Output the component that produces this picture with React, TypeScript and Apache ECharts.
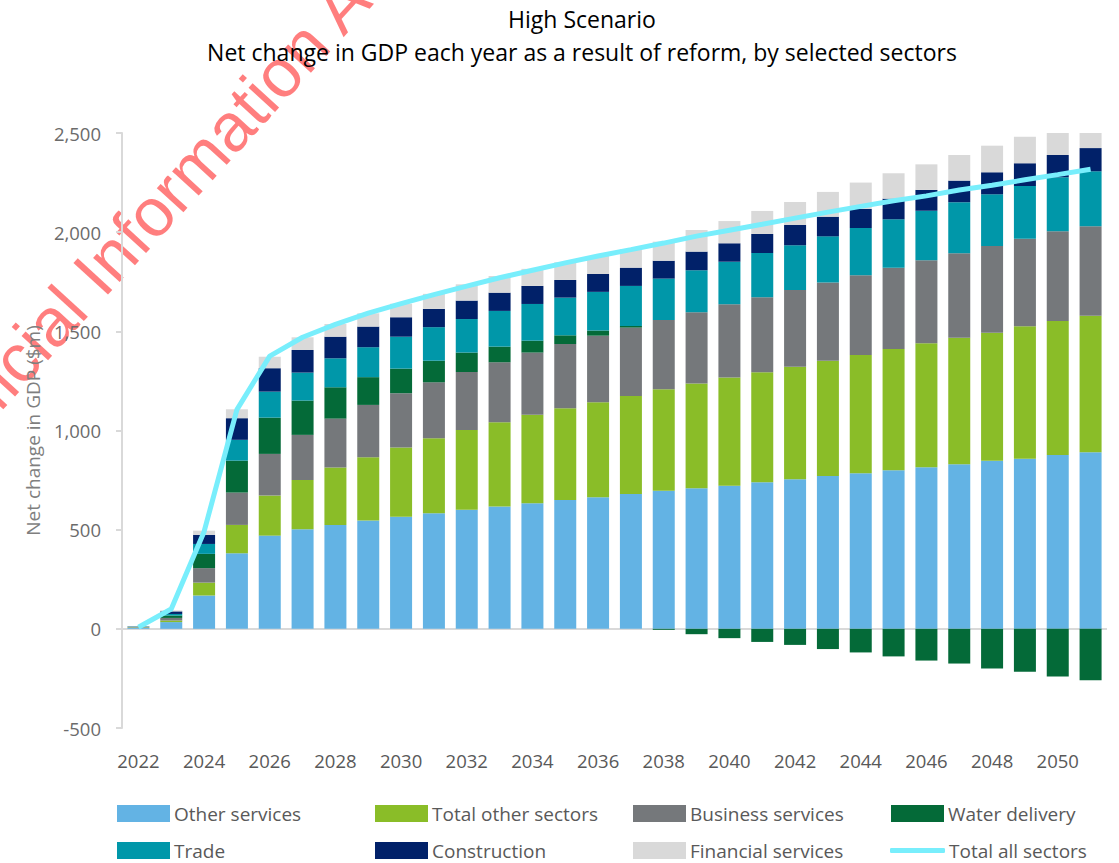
import React, { useEffect, useRef } from "react";
import * as echarts from "echarts";

const years = ["2022","2023","2024","2025","2026","2027","2028","2029","2030","2031","2032","2033","2034","2035","2036","2037","2038","2039","2040","2041","2042","2043","2044","2045","2046","2047","2048","2049","2050","2051"];

const otherServices = [5, 34, 168, 381, 470, 502, 524, 546, 565, 583, 600, 617, 633, 649, 664, 680, 696, 709, 722, 739, 754, 770, 785, 800, 815, 830, 847, 858, 877, 890];
const totalOtherSectors = [2, 8, 65, 143, 202, 249, 289, 319, 349, 378, 403, 425, 446, 463, 479, 494, 512, 528, 545, 555, 568, 582, 596, 611, 625, 638, 646, 668, 675, 689];
const businessServices = [2, 13, 73, 163, 210, 227, 247, 264, 274, 282, 292, 302, 314, 324, 335, 345, 349, 359, 370, 378, 387, 394, 402, 410, 418, 426, 437, 441, 452, 451];
const waterDelivery = [1, 12, 72, 161, 183, 173, 158, 140, 124, 109, 98, 79, 60, 44, 26, 8, -5, -27, -47, -66, -81, -102, -119, -139, -160, -175, -200, -217, -240, -259];
const trade = [1, 8, 50, 105, 131, 141, 146, 151, 161, 169, 169, 180, 185, 190, 195, 202, 209, 212, 214, 223, 225, 233, 238, 244, 250, 257, 261, 266, 273, 277];
const construction = [1, 13, 46, 109, 118, 114, 109, 104, 98, 92, 93, 92, 91, 89, 90, 92, 90, 94, 93, 96, 102, 99, 96, 104, 105, 109, 111, 114, 112, 117];
const financialServices = [0, 5, 21, 45, 58, 64, 64, 67, 68, 76, 82, 84, 86, 89, 91, 93, 96, 109, 112, 116, 116, 125, 133, 128, 129, 129, 134, 134, 136, 138];
const totalAllSectors = [8, 100, 490, 1105, 1375, 1470, 1535, 1592, 1640, 1685, 1728, 1770, 1808, 1845, 1880, 1912, 1945, 1980, 2010, 2040, 2071, 2101, 2130, 2158, 2183, 2213, 2237, 2264, 2290, 2317];

const yTicks = { min: -500, max: 2500, interval: 500 };

const FONT = "'Open Sans', 'Noto Sans', sans-serif";
const LINE_COLOR = "#78eefc";

export default function App() {
  const ref = useRef<HTMLDivElement>(null);
  useEffect(() => {
    if (!ref.current) return;
    const chart = echarts.init(ref.current, null, { renderer: "svg" });
    const barSeries = [
      { name: "Other services", data: otherServices, color: "#63b3e4" },
      { name: "Total other sectors", data: totalOtherSectors, color: "#8abd28" },
      { name: "Business services", data: businessServices, color: "#75787b" },
      { name: "Water delivery", data: waterDelivery, color: "#046a38" },
      { name: "Trade", data: trade, color: "#0097a9" },
      { name: "Construction", data: construction, color: "#012169" },
      { name: "Financial services", data: financialServices, color: "#d9d9d9" },
    ];
    const legendPos: Record<string, [number, number]> = {
      "Other services": [117, 0],
      "Total other sectors": [375, 0],
      "Business services": [633, 0],
      "Water delivery": [891, 0],
      "Trade": [117, 1],
      "Construction": [375, 1],
      "Financial services": [633, 1],
      "Total all sectors": [890, 1],
    };
    const legends = Object.keys(legendPos).map((name) => {
      const isLine = name === "Total all sectors";
      const base: any = {
        data: [name],
        left: legendPos[name][0],
        top: legendPos[name][1] === 0 ? 804 : 841,
        padding: 0,
        itemWidth: isLine ? 55 : 53,
        itemHeight: isLine ? 5 : 17,
        itemGap: 4,
        icon: isLine ? "roundRect" : "rect",
        textStyle: { fontSize: 19, color: "#595959", fontFamily: FONT, padding: [0, 0, 0, -1] },
        selectedMode: false,
      };
      if (isLine) base.itemStyle = { color: LINE_COLOR };
      return base;
    });

    const series: any[] = barSeries.map((s, i) => ({
      type: "bar",
      name: s.name,
      stack: "total",
      data: s.data,
      barWidth: 22,
      itemStyle: { color: s.color },
      emphasis: { disabled: true },
      ...(i === 0
        ? {
            markLine: {
              silent: true,
              symbol: "none",
              label: { show: false },
              lineStyle: { color: "#d9d9d9", width: 2, type: "solid" },
              data: [{ yAxis: 0 }],
              z: 1,
            },
          }
        : {}),
    }));
    series.push({
      type: "line",
      name: "Total all sectors",
      data: totalAllSectors,
      showSymbol: false,
      symbol: "none",
      lineStyle: { color: LINE_COLOR, width: 5 },
      itemStyle: { color: LINE_COLOR },
      z: 5,
    });

    const wmFont = "68px 'Liberation Sans', Arial, sans-serif";
    const wmFill = "rgba(255,20,20,0.55)";

    chart.setOption({
      animation: false,
      textStyle: { fontFamily: FONT },
      grid: { left: 122, right: 12, top: 133, bottom: 135, containLabel: false },
      legend: legends,
      xAxis: {
        type: "category",
        data: years,
        axisLine: { show: false, onZero: false },
        axisTick: { show: false },
        axisLabel: { interval: 1, fontSize: 18.5, color: "#595959", margin: 23, fontFamily: FONT },
        splitLine: { show: false },
      },
      yAxis: {
        type: "value",
        min: yTicks.min,
        max: yTicks.max,
        interval: yTicks.interval,
        name: "Net change in GDP ($m)",
        nameLocation: "middle",
        nameRotate: 90,
        nameGap: 80,
        nameTextStyle: { fontSize: 19, color: "#7f7f7f", fontFamily: FONT },
        axisLine: { show: true, lineStyle: { color: "#d9d9d9", width: 2 } },
        axisTick: { show: true, length: 6, lineStyle: { color: "#d9d9d9", width: 2 } },
        axisLabel: {
          fontSize: 18.5,
          color: "#6b6b6b",
          margin: 21,
          fontFamily: FONT,
          formatter: (v: number) => v.toLocaleString("en-US"),
        },
        splitLine: { show: false },
      },
      series,
      graphic: [
        {
          type: "group",
          x: 100,
          y: 296,
          rotation: 0.83,
          z: -10,
          silent: true,
          children: [
            {
              type: "text",
              x: 0,
              y: 15,
              style: {
                text: "Official ",
                font: wmFont,
                fill: wmFill,
                textAlign: "right",
                textVerticalAlign: "bottom",
              },
            },
            {
              type: "text",
              x: 0,
              y: 15,
              style: {
                text: "Information Act",
                font: wmFont,
                fill: wmFill,
                textAlign: "left",
                textVerticalAlign: "bottom",
              },
            },
          ],
        },
        {
          type: "text",
          x: 582,
          y: 19,
          z: 10,
          style: {
            text: "High Scenario",
            font: `23px ${FONT}`,
            fill: "#000000",
            textAlign: "center",
            textVerticalAlign: "middle",
          },
        },
        {
          type: "text",
          x: 582,
          y: 52,
          z: 10,
          style: {
            text: "Net change in GDP each year as a result of reform, by selected sectors",
            font: `23px ${FONT}`,
            fill: "#000000",
            textAlign: "center",
            textVerticalAlign: "middle",
          },
        },
      ],
    });
    return () => chart.dispose();
  }, []);
  return <div ref={ref} style={{ width: 1119, height: 863, position: "absolute", left: 0, top: 0 }} />;
}
